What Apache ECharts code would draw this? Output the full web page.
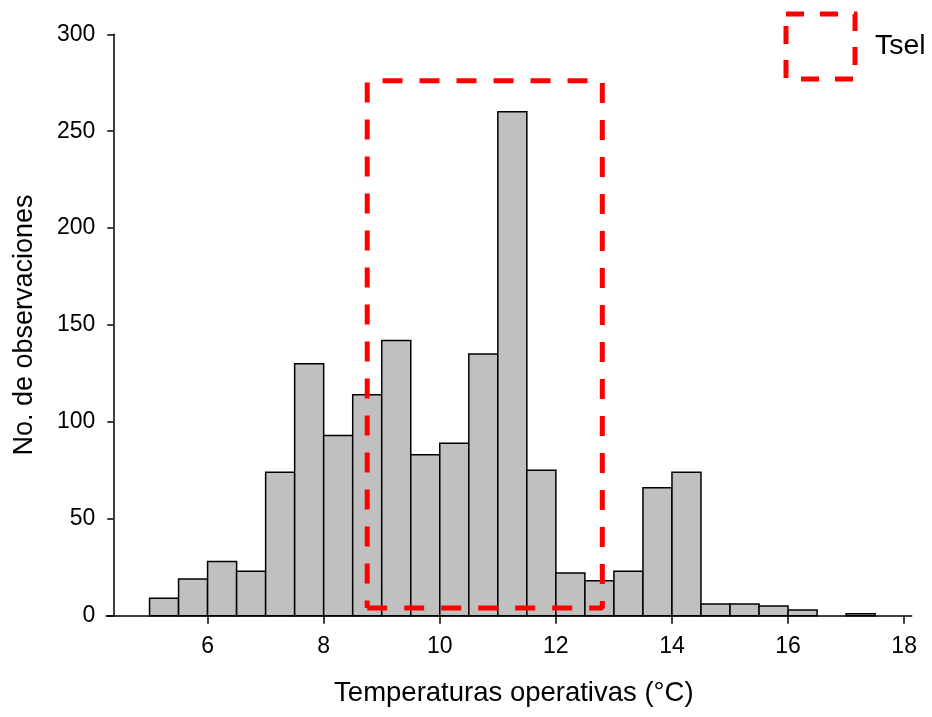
<!DOCTYPE html>
<html>
<head>
<meta charset="utf-8">
<script src="https://cdn.jsdelivr.net/npm/echarts@6/dist/echarts.min.js"></script>
<style>
html,body{margin:0;padding:0;background:#fff;}
#chart{width:932px;height:717px;}
</style>
</head>
<body>
<div id="chart"></div>
<script>
// Histogram bins (°C) and counts
const binStarts = [5.0, 5.5, 6.0, 6.5, 7.0, 7.5, 8.0, 8.5, 9.0, 9.5, 10.0, 10.5, 11.0, 11.5, 12.0, 12.5, 13.0, 13.5, 14.0, 14.5, 15.0, 15.5, 16.0, 16.5, 17.0];
const binWidth = 0.5;
const counts = [9, 19, 28, 23, 74, 130, 93, 114, 142, 83, 89, 135, 260, 75, 22, 18, 23, 66, 74, 6, 6, 5, 3, 0, 1];

// Tsel range (rectangle)
const tselX = [8.75, 12.8];
const tselY = [4, 276];

const xTicks = [6, 8, 10, 12, 14, 16, 18];
const yTicks = [0, 50, 100, 150, 200, 250, 300];

const xAxisTitle = 'Temperaturas operativas (°C)';
const yAxisTitle = 'No. de observaciones';
const legendName = 'Tsel';

const barData = binStarts.map((s, i) => [s, s + binWidth, counts[i]]);
const rectData = [
  [tselX[0], tselY[0]], [tselX[1], tselY[0]], [tselX[1], tselY[1]],
  [tselX[0], tselY[1]], [tselX[0], tselY[0]]
];

const FONT = '"Liberation Sans", Arial, sans-serif';
const chart = echarts.init(document.getElementById('chart'), null, {renderer: 'canvas'});
chart.setOption({
  animation: false,
  backgroundColor: '#ffffff',
  textStyle: {fontFamily: FONT, color: '#000'},
  grid: {left: 106, right: 20.3, top: 34.3, bottom: 101.3, containLabel: false},
  legend: {
    left: 778.5, top: 6.5,
    itemWidth: 69, itemHeight: 65,
    textStyle: {fontFamily: FONT, fontSize: 28.5, color: '#000', padding: [0, 0, 4, 15]},
    data: [{
      name: legendName, icon: 'rect',
      itemStyle: {color: 'rgba(0,0,0,0)', borderColor: '#ff0000', borderWidth: 5, borderType: [18, 16]}
    }]
  },
  xAxis: {
    type: 'value', min: 4.25, max: 18.13,
    name: xAxisTitle, nameLocation: 'middle', nameGap: 64,
    nameTextStyle: {fontFamily: FONT, fontSize: 27.5, color: '#000', padding: [0, 0, 0, 10]},
    axisLine: {show: true, lineStyle: {color: '#000', width: 1.5}},
    axisTick: {show: true, length: 8, lineStyle: {color: '#000', width: 1.5}, customValues: xTicks},
    axisLabel: {fontFamily: FONT, fontSize: 23, color: '#000', margin: 19, customValues: xTicks},
    splitLine: {show: false}
  },
  yAxis: {
    type: 'value', min: 0, max: 300, interval: 50, offset: -7.3,
    name: yAxisTitle, nameLocation: 'middle', nameGap: 75,
    nameTextStyle: {fontFamily: FONT, fontSize: 27, color: '#000'},
    axisLine: {show: true, lineStyle: {color: '#000', width: 1.5}},
    axisTick: {show: true, length: 6, lineStyle: {color: '#000', width: 1.5}},
    axisLabel: {fontFamily: FONT, fontSize: 23, color: '#000', margin: 18},
    splitLine: {show: false}
  },
  series: [
    {
      type: 'custom',
      name: 'hist',
      data: barData,
      encode: {x: [0, 1], y: 2},
      z: 2,
      renderItem: function (params, api) {
        const v = api.value(2);
        if (!v) return null;
        const p0 = api.coord([api.value(0), 0]);
        const p1 = api.coord([api.value(1), v]);
        return {
          type: 'rect',
          shape: {x: p0[0], y: p1[1], width: p1[0] - p0[0], height: p0[1] - p1[1]},
          style: {fill: '#c0c0c0', stroke: '#000', lineWidth: 1.5}
        };
      }
    },
    {
      type: 'line',
      name: legendName,
      data: rectData,
      z: 5,
      symbol: 'none',
      silent: true,
      lineStyle: {color: '#ff0000', width: 5, type: [20, 17]},
      itemStyle: {color: '#ff0000'}
    }
  ]
});
</script>
</body>
</html>
